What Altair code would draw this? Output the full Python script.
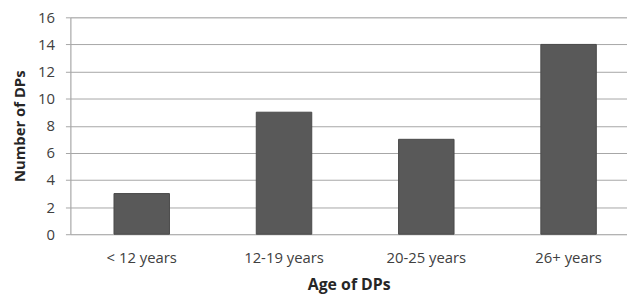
import altair as alt
import pandas as pd

categories = ["< 12 years", "12-19 years", "20-25 years", "26+ years"]
counts = [3, 9, 7, 14]

df = pd.DataFrame({"age": categories, "n": counts})

FONT = "Open Sans"

chart = alt.Chart(df).mark_bar(color="#595959", stroke="#4a4a4a", strokeWidth=1).encode(
    x=alt.X("age:N", sort=categories,
            scale=alt.Scale(paddingInner=0.61, paddingOuter=0.261, align=0.587),
            axis=alt.Axis(title="Age of DPs", labelAngle=0, ticks=False, domain=False,
                          labelPadding=17, labelFontSize=15, labelColor="#404040",
                          labelFont=FONT, titleFont=FONT, titleFontSize=16,
                          titleFontWeight="bold", titleColor="#262626", titlePadding=11)),
    y=alt.Y("n:Q", scale=alt.Scale(domain=[0, 16], nice=False),
            axis=alt.Axis(title="Number of DPs", values=[0, 2, 4, 6, 8, 10, 12, 14, 16],
                          grid=True, gridColor="#a6a6a6", gridWidth=1,
                          domain=True, domainColor="#a6a6a6", tickColor="#a6a6a6", tickSize=5,
                          labelPadding=11, labelFontSize=15, labelColor="#404040",
                          labelFont=FONT, titleFont=FONT, titleFontSize=15,
                          titleFontWeight="bold", titleColor="#262626", titlePadding=10)),
).properties(
    width=562, height=219,
    autosize=alt.AutoSizeParams(type="none"),
    padding={"left": 63, "top": 8, "right": 0, "bottom": 64},
).configure_view(stroke=None).configure(background="white")

chart.save("out.html", embed_options={"renderer": "svg", "actions": False})
